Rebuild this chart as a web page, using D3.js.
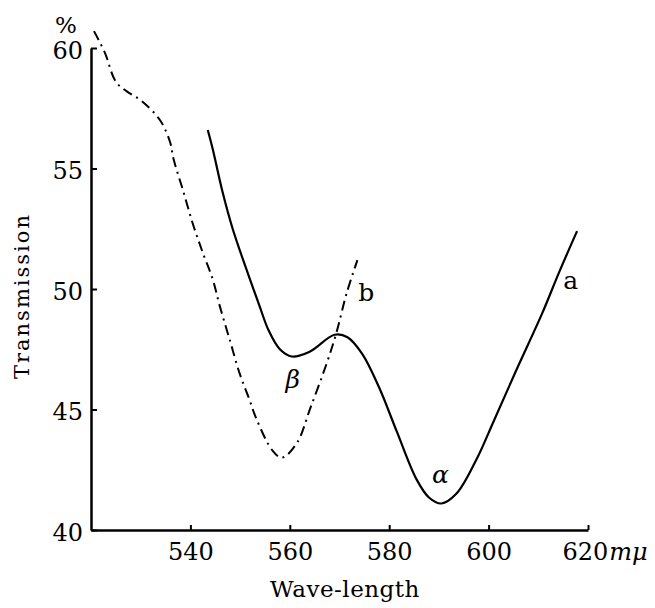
<!DOCTYPE html>
<html>
<head>
<meta charset="utf-8">
<script src="https://cdn.jsdelivr.net/npm/d3@7"></script>
<style>
  body { margin: 0; background: #fff; }
  svg text { font-family: "DejaVu Serif", serif; }
</style>
</head>
<body>
<svg></svg>
<script>
// curve a (solid) : wave-length (mμ), transmission (%)
let curveA = [
  [543.5, 56.6], [544.5, 55.8], [546.5, 54.0], [548.5, 52.5], [551.3, 50.8],
  [553.9, 49.3], [555.7, 48.3], [558.0, 47.5], [560.4, 47.2], [564.0, 47.4],
  [569.0, 48.1], [571.6, 48.0], [574.6, 47.3], [578.0, 45.9], [581.5, 44.1],
  [585.5, 42.1], [588.0, 41.35], [590.5, 41.1], [593.5, 41.5], [597.5, 42.9],
  [601.0, 44.5], [605.5, 46.6], [610.8, 49.0], [614.2, 50.7], [617.8, 52.4]
]

// curve b (dash-dot)
let curveB = [
  [520.6, 60.7], [522.8, 59.8], [525.0, 58.6], [527.2, 58.2], [530.2, 57.8],
  [533.9, 57.0], [535.9, 56.1], [536.6, 55.4], [538.5, 54.1], [540.5, 52.7],
  [542.5, 51.5], [544.5, 50.4], [545.9, 49.3], [547.9, 47.9], [549.9, 46.5],
  [551.9, 45.4], [553.3, 44.6], [556.5, 43.3], [558.4, 43.0], [561.4, 43.6],
  [564.2, 45.1], [567.4, 46.9], [569.4, 48.2], [571.4, 49.8], [573.6, 51.2]
]

let xTicks = [540, 560, 580, 600, 620]
let yTicks = [40, 45, 50, 55, 60]

let labels = [
  { text: 'a', x: 616.5, y: 50.0, italic: false },
  { text: 'b', x: 575.4, y: 49.5, italic: false },
  { text: 'α', x: 590.3, y: 41.95, italic: true },
  { text: 'β', x: 560.6, y: 45.9, italic: true }
]

let width = 655
let height = 608

let xScale = d3.scaleLinear()
                .domain([520, 620])
                .range([91, 588])

let yScale = d3.scaleLinear()
                .domain([40, 60])
                .range([530, 48])

let svg = d3.select('svg')
    .attr('width', width)
    .attr('height', height)

let line = d3.line()
              .x(d => xScale(d[0]))
              .y(d => yScale(d[1]))
              .curve(d3.curveCatmullRom.alpha(0.5))

// axes
let xAxis = d3.axisBottom(xScale)
              .tickValues(xTicks)
              .tickSize(-5)
              .tickSizeOuter(0)
              .tickPadding(13)

let yAxis = d3.axisLeft(yScale)
              .tickValues(yTicks)
              .tickSize(-6)
              .tickSizeOuter(0)
              .tickPadding(8)

let gx = svg.append('g')
    .attr('transform', `translate(0, ${yScale(40)})`)
    .call(xAxis)

let gy = svg.append('g')
    .attr('transform', `translate(${xScale(520)}, 0)`)
    .call(yAxis)

svg.selectAll('.domain')
    .attr('stroke', '#000')
    .attr('stroke-width', 2.5)
svg.selectAll('.tick line')
    .attr('stroke', '#000')
    .attr('stroke-width', 2)
svg.selectAll('.tick text')
    .attr('fill', '#000')
    .style('font-size', '24px')

gx.selectAll('.tick text').attr('dy', '0.71em')
gy.selectAll('.tick text').attr('dy', '0.42em')

// unit after the last x tick
let last = gx.selectAll('.tick').filter(d => d === 620).select('text')
last.text('620')
    .attr('text-anchor', 'start')
    .attr('x', -26)
  .append('tspan')
    .style('font-style', 'italic')
    .attr('dx', 1)
    .text('mμ')

// curves
svg.append('path')
    .datum(curveA)
    .attr('d', line)
    .attr('fill', 'none')
    .attr('stroke', '#000')
    .attr('stroke-width', 2.2)

svg.append('path')
    .datum(curveB)
    .attr('d', line)
    .attr('fill', 'none')
    .attr('stroke', '#000')
    .attr('stroke-width', 2)
    .attr('stroke-dasharray', '10,5,2,5')

// curve labels
svg.selectAll('.clabel')
  .data(labels)
  .enter()
  .append('text')
    .attr('class', 'clabel')
    .attr('x', d => xScale(d.x))
    .attr('y', d => yScale(d.y))
    .style('text-anchor', 'middle')
    .style('font-size', '25px')
    .style('font-style', d => d.italic ? 'italic' : 'normal')
    .text(d => d.text)

// axis titles
svg.append('text')
    .attr('x', 345)
    .attr('y', 597)
    .style('text-anchor', 'middle')
    .style('font-size', '23px')
    .style('letter-spacing', '0.5px')
    .text('Wave-length')

svg.append('text')
    .attr('transform', 'rotate(-90)')
    .attr('x', -296)
    .attr('y', 29)
    .style('text-anchor', 'middle')
    .style('font-size', '21px')
    .style('letter-spacing', '2px')
    .text('Transmission')

svg.append('text')
    .attr('x', 66)
    .attr('y', 33)
    .style('text-anchor', 'middle')
    .style('font-size', '23px')
    .text('%')
</script>
</body>
</html>
